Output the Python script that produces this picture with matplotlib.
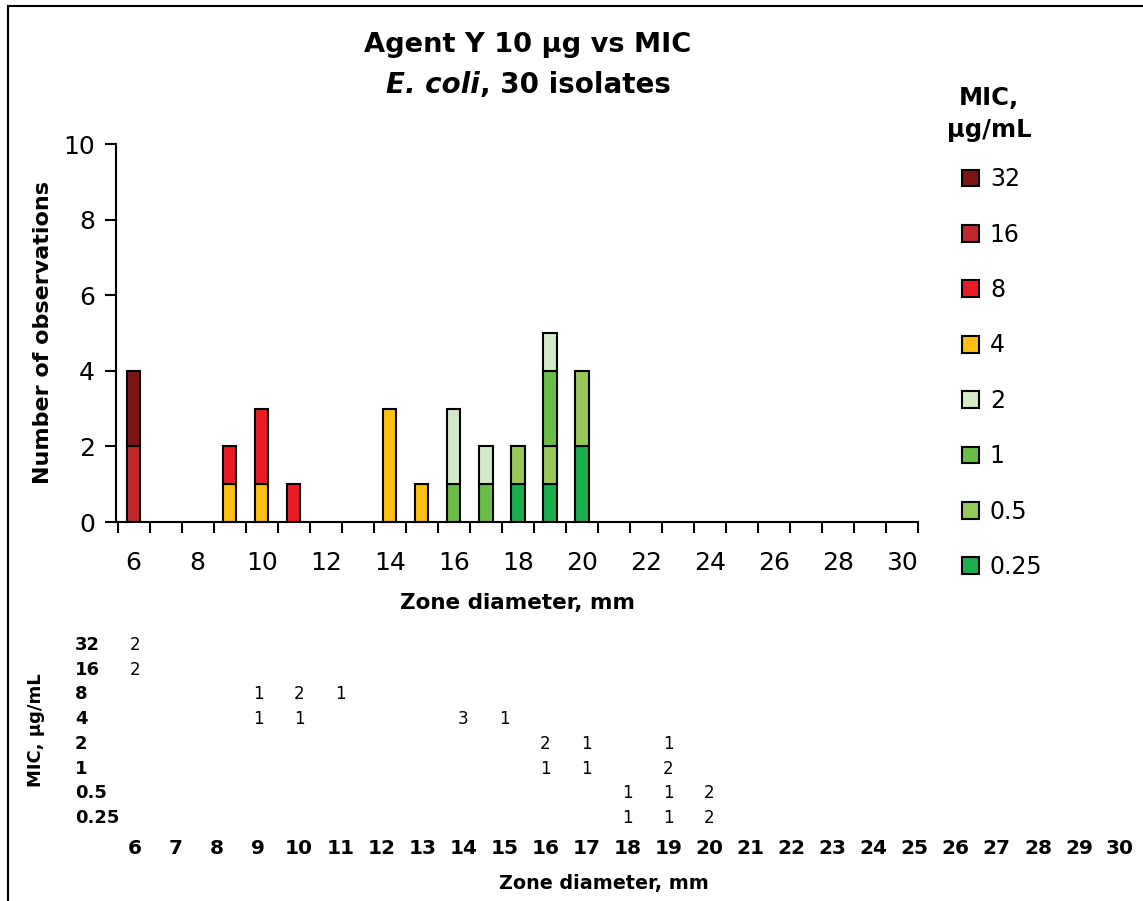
import matplotlib
matplotlib.use("Agg")
import matplotlib.pyplot as plt
from matplotlib.lines import Line2D
import numpy as np

# zone diameters (mm) shown on the axis
zones = [6, 7, 8, 9, 10, 11, 12, 13, 14, 15, 16, 17, 18, 19, 20,
         21, 22, 23, 24, 25, 26, 27, 28, 29, 30]

# MIC levels, top of table first
mic_labels = ["32", "16", "8", "4", "2", "1", "0.5", "0.25"]
mic_colors = ["#7d1416", "#c1272d", "#ed1c24", "#fdc010",
              "#d3e9c7", "#6abd45", "#97c957", "#1aaf4e"]

# counts per zone (6..30) for each MIC level
mic_32 = [2, 0, 0, 0, 0, 0, 0, 0, 0, 0, 0, 0, 0, 0, 0, 0, 0, 0, 0, 0, 0, 0, 0, 0, 0]
mic_16 = [2, 0, 0, 0, 0, 0, 0, 0, 0, 0, 0, 0, 0, 0, 0, 0, 0, 0, 0, 0, 0, 0, 0, 0, 0]
mic_8 = [0, 0, 0, 1, 2, 1, 0, 0, 0, 0, 0, 0, 0, 0, 0, 0, 0, 0, 0, 0, 0, 0, 0, 0, 0]
mic_4 = [0, 0, 0, 1, 1, 0, 0, 0, 3, 1, 0, 0, 0, 0, 0, 0, 0, 0, 0, 0, 0, 0, 0, 0, 0]
mic_2 = [0, 0, 0, 0, 0, 0, 0, 0, 0, 0, 2, 1, 0, 1, 0, 0, 0, 0, 0, 0, 0, 0, 0, 0, 0]
mic_1 = [0, 0, 0, 0, 0, 0, 0, 0, 0, 0, 1, 1, 0, 2, 0, 0, 0, 0, 0, 0, 0, 0, 0, 0, 0]
mic_05 = [0, 0, 0, 0, 0, 0, 0, 0, 0, 0, 0, 0, 1, 1, 2, 0, 0, 0, 0, 0, 0, 0, 0, 0, 0]
mic_025 = [0, 0, 0, 0, 0, 0, 0, 0, 0, 0, 0, 0, 1, 1, 2, 0, 0, 0, 0, 0, 0, 0, 0, 0, 0]

mic_counts = [mic_32, mic_16, mic_8, mic_4, mic_2, mic_1, mic_05, mic_025]

plt.rcParams['font.family'] = ['DejaVu Sans']

W, H = 1143, 901
fig = plt.figure(figsize=(W / 100, H / 100), dpi=100)

# ---- main histogram ----
ax = fig.add_axes([116 / W, 1 - 522 / H, (918 - 116) / W, (522 - 144) / H])
x = np.array(zones)
bottom = np.zeros(len(zones))
# stack from lowest MIC at the bottom
for lab, col, cnt in zip(mic_labels[::-1], mic_colors[::-1], mic_counts[::-1]):
    cnt = np.array(cnt, dtype=float)
    m = cnt > 0
    ax.bar(x[m], cnt[m], bottom=bottom[m], width=0.42, color=col,
           edgecolor="black", linewidth=1.5, label=lab)
    bottom += cnt

ax.set_xlim(5.45, 30.5)
ax.set_ylim(0, 10)
ax.set_yticks([0, 2, 4, 6, 8, 10])
ax.set_xticks(zones[::2])
ax.set_xticks(np.arange(5.5, 31, 1.0), minor=True)
ax.tick_params(axis="x", which="major", length=0, pad=21, labelsize=18)
ax.tick_params(axis="x", which="minor", length=8, width=1.5, direction="out")
ax.tick_params(axis="y", length=8, width=1.5, pad=7, labelsize=18)
for s in ["top", "right"]:
    ax.spines[s].set_visible(False)
for s in ["left", "bottom"]:
    ax.spines[s].set_linewidth(1.5)
ax.set_xlabel("Zone diameter, mm", fontsize=15.5, fontweight="bold", labelpad=13)
ax.set_ylabel("Number of observations", fontsize=16, fontweight="bold", labelpad=7.5)

# title
fig.text(528 / W, 1 - 45 / H, "Agent Y 10 µg vs MIC", ha="center", va="center",
         fontsize=19.6, fontweight="bold")
fig.text(480 / W, 1 - 85 / H, "E. coli", ha="right", va="center",
         fontsize=20, fontweight="bold", style="italic")
fig.text(480 / W, 1 - 85 / H, ", 30 isolates", ha="left", va="center",
         fontsize=20, fontweight="bold")

# legend (32 on top)
handles, labels = ax.get_legend_handles_labels()
leg = fig.legend(handles[::-1], labels[::-1],
                 loc="upper left", bbox_to_anchor=(941 / W, 1 - 146 / H),
                 frameon=False, fontsize=17, handlelength=0.72, handleheight=0.72,
                 handletextpad=0.45, labelspacing=1.33)
fig.text(989 / W, 1 - 114 / H, "MIC,\nµg/mL", ha="center", va="center",
         fontsize=17.5, fontweight="bold", linespacing=1.45)

# ---- frequency table ----
tab = fig.add_axes([0, 0, 1, 1])
tab.set_axis_off()
px_per = 41.04
tab.set_xlim(6 - 135 / px_per, 6 + (W - 135) / px_per)
row_px = 24.7
tab.set_ylim((H - 645) / row_px, -645 / row_px)

label_x = 6 - (135 - 75) / px_per
for i, lab in enumerate(mic_labels):
    tab.text(label_x, i, lab, ha="left", va="center", fontsize=13, fontweight="bold")
    for z, c in zip(zones, mic_counts[i]):
        if c > 0:
            tab.text(z, i, str(c), ha="center", va="center", fontsize=12)

col_row = (848 - 645) / row_px
for z in zones:
    tab.text(z, col_row, str(z), ha="center", va="center", fontsize=14.5, fontweight="bold")

fig.text(604 / W, 1 - 884 / H, "Zone diameter, mm", ha="center", va="center",
         fontsize=13.8, fontweight="bold")
fig.text(36 / W, 1 - 730 / H, "MIC, µg/mL", ha="center", va="center",
         rotation=90, fontsize=13, fontweight="bold")

# partial frame (top and left edges)
fig.add_artist(Line2D([8 / W, 8 / W], [0, 1 - 6 / H], transform=fig.transFigure,
                      color="black", linewidth=1.5))
fig.add_artist(Line2D([8 / W, 1], [1 - 6 / H, 1 - 6 / H], transform=fig.transFigure,
                      color="black", linewidth=1.5))

fig.savefig("out.png", dpi=100)
